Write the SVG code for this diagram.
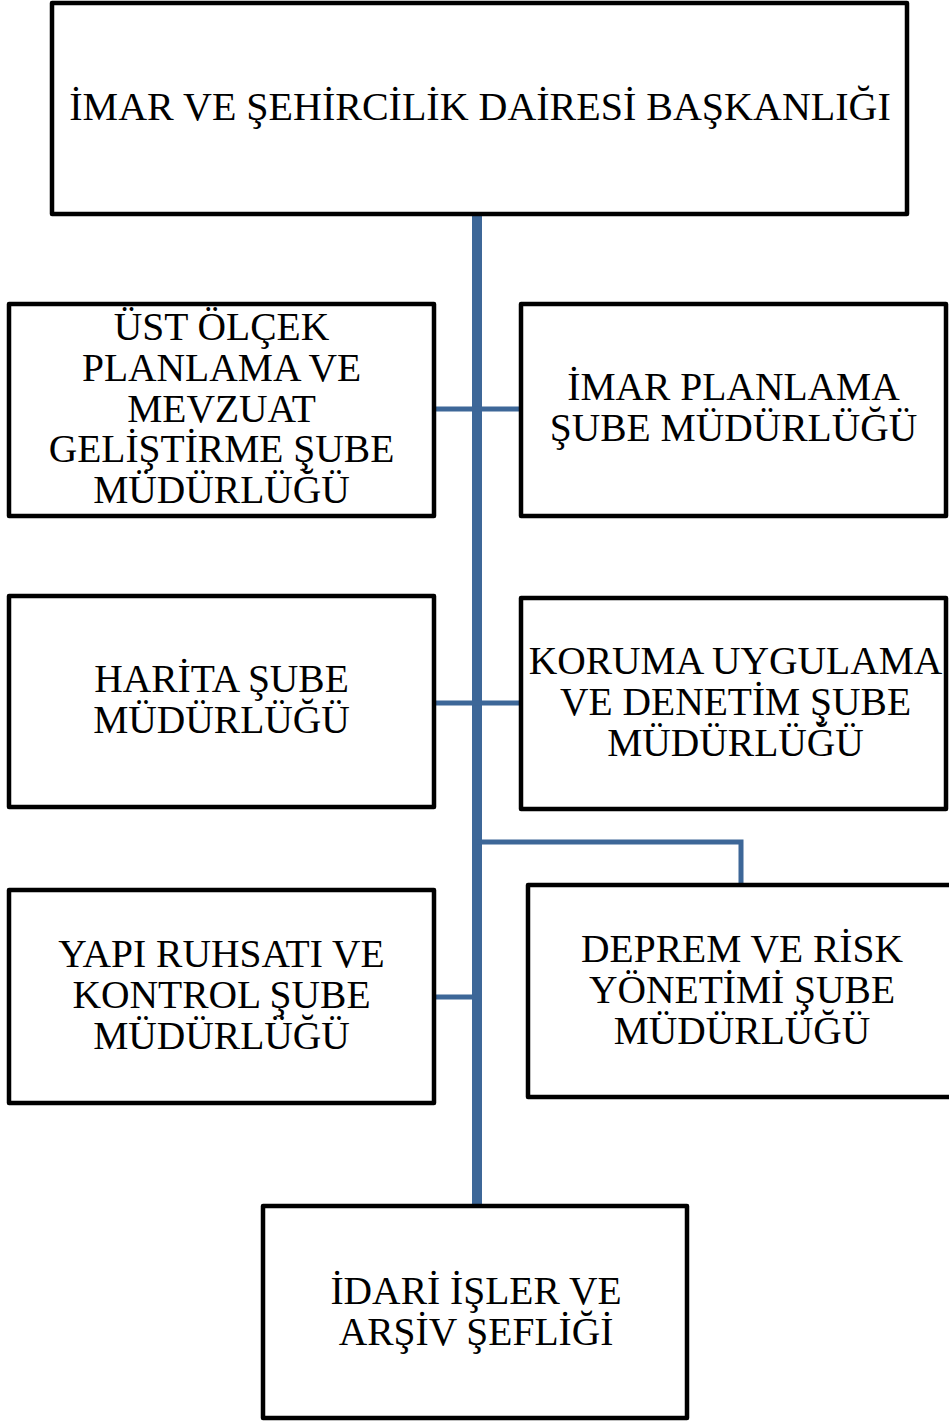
<svg xmlns="http://www.w3.org/2000/svg" width="949" height="1421" viewBox="0 0 949 1421">
<style>
.box{fill:#fff;stroke:#000;stroke-width:4.5;stroke-linejoin:round}
.t{font-family:"Liberation Serif","Times New Roman",serif;font-size:39.5px;fill:#000;text-anchor:middle}
.trunk{stroke:#3D6798;stroke-width:10;fill:none}
.br{stroke:#3D6798;stroke-width:5;fill:none}
</style>
<rect width="949" height="1421" fill="#fff"/>
<g id="connectors">
<line class="trunk" x1="477" y1="214" x2="477" y2="1206"/>
<line class="br" x1="433" y1="409" x2="522" y2="409"/>
<line class="br" x1="433" y1="703" x2="522" y2="703"/>
<line class="br" x1="433" y1="997" x2="477" y2="997"/>
<polyline class="br" points="477,842 741,842 741,886"/>
</g>
<g id="n-baskanlik">
<rect class="box" x="52" y="3" width="855" height="211"/>
<text class="t" x="480" y="120" style="font-size:40px">İMAR VE ŞEHİRCİLİK DAİRESİ BAŞKANLIĞI</text>
</g>
<g id="n-ust-olcek">
<rect class="box" x="9" y="304" width="425" height="212"/>
<text class="t" x="221.5"><tspan x="221.5" y="340">ÜST ÖLÇEK</tspan><tspan x="221.5" y="381">PLANLAMA VE</tspan><tspan x="221.5" y="422">MEVZUAT</tspan><tspan x="221.5" y="462">GELİŞTİRME ŞUBE</tspan><tspan x="221.5" y="503">MÜDÜRLÜĞÜ</tspan></text>
</g>
<g id="n-imar-planlama">
<rect class="box" x="521" y="304" width="425" height="212"/>
<text class="t"><tspan x="733.5" y="400">İMAR PLANLAMA</tspan><tspan x="733.5" y="441">ŞUBE MÜDÜRLÜĞÜ</tspan></text>
</g>
<g id="n-harita">
<rect class="box" x="9" y="596" width="425" height="211"/>
<text class="t"><tspan x="221.5" y="692">HARİTA ŞUBE</tspan><tspan x="221.5" y="733">MÜDÜRLÜĞÜ</tspan></text>
</g>
<g id="n-koruma">
<rect class="box" x="521" y="598" width="425" height="211"/>
<text class="t"><tspan x="735.5" y="674">KORUMA UYGULAMA</tspan><tspan x="735.5" y="715">VE DENETİM ŞUBE</tspan><tspan x="735.5" y="756">MÜDÜRLÜĞÜ</tspan></text>
</g>
<g id="n-yapi">
<rect class="box" x="9" y="890" width="425" height="213"/>
<text class="t"><tspan x="221.5" y="967">YAPI RUHSATI VE</tspan><tspan x="221.5" y="1008">KONTROL ŞUBE</tspan><tspan x="221.5" y="1049">MÜDÜRLÜĞÜ</tspan></text>
</g>
<g id="n-deprem">
<rect class="box" x="528" y="885" width="428" height="212"/>
<text class="t"><tspan x="742" y="962">DEPREM VE RİSK</tspan><tspan x="742" y="1003">YÖNETİMİ ŞUBE</tspan><tspan x="742" y="1044">MÜDÜRLÜĞÜ</tspan></text>
</g>
<g id="n-idari">
<rect class="box" x="263" y="1206" width="424" height="212"/>
<text class="t"><tspan x="476" y="1304">İDARİ İŞLER VE</tspan><tspan x="476" y="1345">ARŞİV ŞEFLİĞİ</tspan></text>
</g>
</svg>
